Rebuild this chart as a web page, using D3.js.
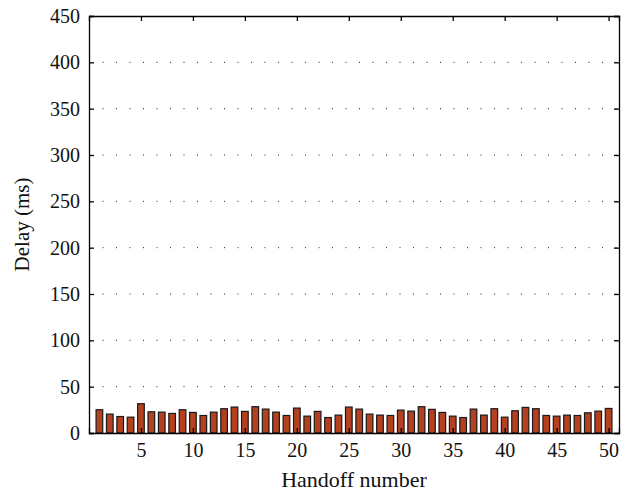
<!DOCTYPE html>
<html>
<head>
<meta charset="utf-8">
<script src="https://cdn.jsdelivr.net/npm/d3@7"></script>
<style>
  body { margin: 0; background: #fff; }
  svg text { font-family: "Liberation Serif", "Times New Roman", serif; fill: #111; }
</style>
</head>
<body>
<svg id="chart" width="634" height="495"></svg>
<script>
var handoffs = d3.range(1, 51);
var delays = [25.1, 20.4, 17.8, 17.1, 31.6, 22.9, 22.5, 21.1, 25.1, 22.2,
              18.9, 22.5, 26.2, 28.0, 23.3, 28.4, 25.8, 22.5, 18.9, 26.9,
              18.2, 23.3, 16.7, 19.3, 28.0, 25.8, 20.4, 19.3, 18.9, 24.7,
              23.6, 28.4, 25.5, 22.2, 18.2, 16.7, 25.8, 19.3, 26.2, 17.1,
              24.0, 27.6, 26.2, 18.9, 18.2, 19.3, 18.9, 21.8, 23.6, 26.5];
var xTicks = [5, 10, 15, 20, 25, 30, 35, 40, 45, 50];
var yTicks = [0, 50, 100, 150, 200, 250, 300, 350, 400, 450];

var margin = {left: 89, right: 15, top: 16, bottom: 62};
var width = 634, height = 495;
var svg = d3.select("#chart");

var x = d3.scaleLinear().domain([0, 51]).range([margin.left, width - margin.right]);
var y = d3.scaleLinear().domain([0, 450]).range([height - margin.bottom, margin.top]);
var bw = (x(1) - x(0)) * 0.64;

// dotted grid
svg.append("g")
    .selectAll("line")
    .data(yTicks.filter(function (d) { return d > 0 && d < 450; }))
    .enter().append("line")
    .attr("x1", x(0)).attr("x2", x(51))
    .attr("y1", function (d) { return y(d); })
    .attr("y2", function (d) { return y(d); })
    .attr("stroke", "#222")
    .attr("stroke-width", 1)
    .attr("stroke-dasharray", "1,12.5");

// bars
svg.append("g")
    .selectAll("rect")
    .data(delays)
    .enter().append("rect")
    .attr("x", function (d, i) { return x(handoffs[i]) - bw / 2; })
    .attr("y", function (d) { return y(d); })
    .attr("width", bw)
    .attr("height", function (d) { return y(0) - y(d); })
    .attr("fill", "#b5401f")
    .attr("stroke", "#1a1a1a")
    .attr("stroke-width", 1.2);

// axes (ticks inward)
var axBottom = svg.append("g")
    .attr("transform", "translate(0," + y(0) + ")")
    .call(d3.axisBottom(x).tickValues(xTicks).tickSize(-5).tickPadding(10));
var axTop = svg.append("g")
    .attr("transform", "translate(0," + y(450) + ")")
    .call(d3.axisTop(x).tickValues(xTicks).tickSize(-5).tickFormat(""));
var axLeft = svg.append("g")
    .attr("transform", "translate(" + x(0) + ",0)")
    .call(d3.axisLeft(y).tickValues(yTicks).tickSize(-5).tickPadding(9));
var axRight = svg.append("g")
    .attr("transform", "translate(" + x(51) + ",0)")
    .call(d3.axisRight(y).tickValues(yTicks).tickSize(-5).tickFormat(""));

[axBottom, axTop, axLeft, axRight].forEach(function (g) {
    g.attr("font-family", null).attr("font-size", null);
    g.select(".domain").attr("stroke", "#000").attr("stroke-width", 1.3);
    g.selectAll(".tick line").attr("stroke", "#000").attr("stroke-width", 1.3);
    g.selectAll("text")
        .style("font-family", "'Liberation Serif', 'Times New Roman', serif")
        .style("font-size", "20px")
        .attr("fill", "#111");
});

svg.append("text")
    .attr("x", (x(0) + x(51)) / 2)
    .attr("y", 487)
    .attr("text-anchor", "middle")
    .style("font-size", "22px")
    .text("Handoff number");

svg.append("text")
    .attr("transform", "translate(29," + ((y(0) + y(450)) / 2) + ") rotate(-90)")
    .attr("text-anchor", "middle")
    .style("font-size", "21px")
    .text("Delay (ms)");
</script>
</body>
</html>
